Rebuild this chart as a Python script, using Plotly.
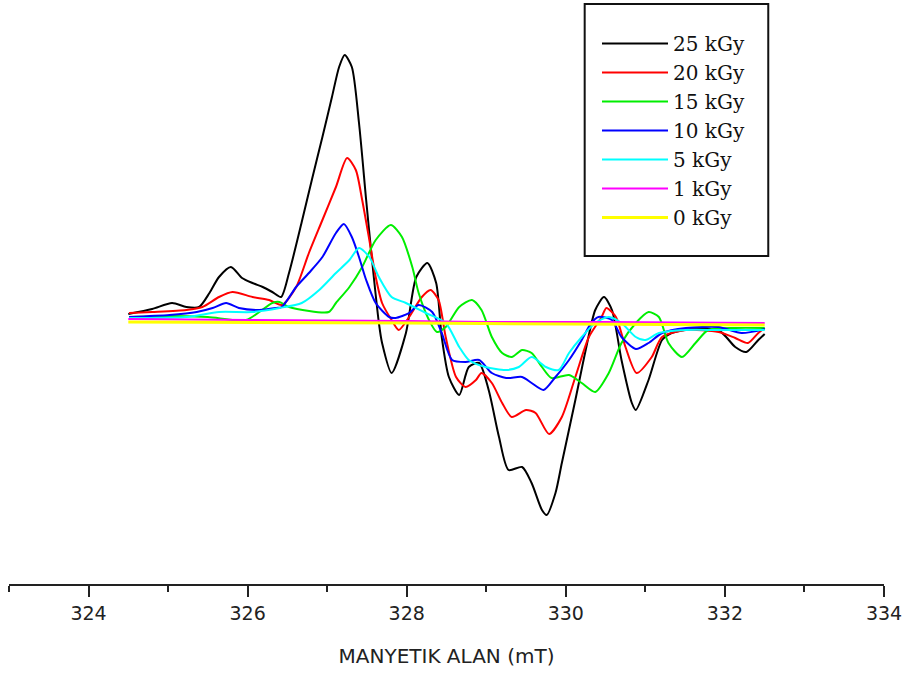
import plotly.graph_objects as go

# Field values (mT) and signal intensities (arb. units)
b25_x = [324.50, 324.80, 325.05, 325.23, 325.39, 325.52, 325.64, 325.79, 325.93, 326.06, 326.19, 326.31,
         326.42, 326.52, 326.68, 326.81, 326.94, 327.06, 327.15, 327.22, 327.31, 327.40, 327.49, 327.56,
         327.65, 327.69, 327.81, 327.99, 328.12, 328.26, 328.37, 328.44, 328.53, 328.66, 328.78, 328.91,
         329.03, 329.16, 329.28, 329.45, 329.57, 329.70, 329.76, 329.87, 329.95, 330.12, 330.25, 330.37,
         330.48, 330.58, 330.70, 330.83, 330.88, 331.04, 331.21, 331.33, 331.70, 331.95, 332.13, 332.27,
         332.42, 332.50]
b25_y = [8, 13, 19, 15, 15, 29, 45, 55, 44, 39, 35, 30,
         25, 49, 100, 143, 185, 225, 255, 267, 255, 199, 122, 65,
         -1, -21, -51, -11, 45, 59, 39, -15, -55, -73, -45, -41,
         -68, -115, -148, -145, -161, -188, -193, -171, -141, -78, -28, 12,
         25, 12, -38, -81, -88, -58, -18, -11, -6, -10, -25, -30,
         -18, -12]

b20_x = [324.51, 324.80, 325.23, 325.43, 325.64, 325.81, 326.06, 326.27, 326.43, 326.61, 326.77, 326.94,
         327.11, 327.25, 327.36, 327.44, 327.53, 327.61, 327.69, 327.81, 327.90, 328.03, 328.19, 328.30,
         328.40, 328.49, 328.62, 328.74, 328.87, 328.94, 329.07, 329.20, 329.32, 329.50, 329.62, 329.79,
         329.95, 330.12, 330.29, 330.45, 330.51, 330.63, 330.75, 330.89, 331.08, 331.21, 331.51, 331.92,
         332.13, 332.29, 332.42, 332.50]
b20_y = [9, 10, 12, 15, 25, 30, 25, 22, 17, 35, 69, 102,
         135, 164, 152, 122, 82, 45, 19, 2, -8, 5, 25, 32,
         22, -15, -55, -65, -58, -51, -61, -81, -95, -88, -91, -112,
         -95, -55, -15, 5, 14, 5, -25, -51, -35, -15, -8, -10,
         -16, -21, -11, -6]

b15_x = [324.51, 325.00, 325.50, 325.98, 326.31, 326.40, 326.52, 327.02, 327.11, 327.28, 327.44, 327.61,
         327.80, 327.94, 328.07, 328.15, 328.28, 328.38, 328.49, 328.66, 328.82, 328.94, 329.07, 329.20,
         329.32, 329.45, 329.57, 329.70, 329.82, 330.04, 330.20, 330.37, 330.54, 330.70, 330.88, 331.04,
         331.17, 331.29, 331.46, 331.63, 331.79, 332.13, 332.50]
b15_y = [5, 6, 5, 2, 19, 20, 15, 10, 19, 35, 55, 82,
         97, 85, 55, 29, 2, -10, -5, 15, 22, 12, -15, -31,
         -35, -28, -31, -45, -56, -53, -61, -70, -51, -21, -1, 10,
         5, -21, -35, -21, -8, -6, -6]

b10_x = [324.51, 325.02, 325.36, 325.56, 325.73, 325.89, 326.15, 326.36, 326.43, 326.61, 326.77, 326.94,
         327.11, 327.21, 327.31, 327.40, 327.49, 327.61, 327.78, 327.86, 328.03, 328.15, 328.32, 328.44,
         328.57, 328.74, 328.91, 329.07, 329.25, 329.45, 329.57, 329.72, 329.87, 330.04, 330.20, 330.32,
         330.41, 330.58, 330.70, 330.88, 331.04, 331.21, 331.51, 331.92, 332.21, 332.50]
b10_y = [5, 7, 10, 14, 19, 14, 12, 14, 15, 35, 49, 65,
         89, 98, 85, 65, 42, 19, 5, 4, 9, 17, 10, -11,
         -38, -40, -38, -51, -56, -55, -61, -68, -55, -38, -18, -1,
         5, 2, -15, -27, -21, -11, -6, -5, -11, -7]

b5_x = [324.51, 325.23, 325.64, 326.06, 326.40, 326.68, 326.90, 327.11, 327.28, 327.40, 327.53, 327.65,
        327.81, 327.99, 328.24, 328.49, 328.66, 328.78, 328.99, 329.25, 329.41, 329.57, 329.75, 329.91,
        330.04, 330.20, 330.37, 330.54, 330.70, 330.88, 331.00, 331.17, 331.51, 331.95, 332.50]
b5_y = [4, 5, 10, 10, 14, 19, 32, 49, 62, 74, 65, 45,
        25, 19, 9, -1, -25, -38, -45, -48, -45, -35, -45, -48,
        -31, -15, -1, 5, -1, -15, -18, -11, -8, -8, -8]

b1_x = [324.5, 326.0, 328.0, 329.0, 330.5, 332.5]
b1_y = [3, 2, 1, 0, 0, -1]

b0_x = [324.5, 328.0, 330.0, 332.5]
b0_y = [0, -1, -2, -3]

labels = ["25 kGy", "20 kGy", "15 kGy", "10 kGy", "5 kGy", "1 kGy", "0 kGy"]
colors = ["#000000", "#ff0000", "#00ee00", "#0000ff", "#00ffff", "#ff00ff", "#ffff00"]
series = [(b25_x, b25_y), (b20_x, b20_y), (b15_x, b15_y), (b10_x, b10_y),
          (b5_x, b5_y), (b1_x, b1_y), (b0_x, b0_y)]
widths = [2, 2, 2, 2, 2, 2, 3]

tick_vals = [324, 326, 328, 330, 332, 334]

fig = go.Figure()
for (xs, ys), name, c, w in zip(series, labels, colors, widths):
    fig.add_trace(go.Scatter(x=xs, y=ys, mode="lines", name=name,
                             line=dict(color=c, width=w, shape="spline", smoothing=0.7)))

fig.update_layout(
    width=902, height=673,
    margin=dict(l=9, r=16, t=0, b=89),
    paper_bgcolor="white", plot_bgcolor="white",
    showlegend=True,
    legend=dict(x=0.672, y=0.959, xanchor="left", yanchor="top",
                bgcolor="rgba(0,0,0,0)", borderwidth=0,
                font=dict(family="DejaVu Serif", size=20, color="#111"),
                itemwidth=66, tracegroupgap=0),
    xaxis=dict(range=[323, 334], tickmode="array", tickvals=tick_vals,
               ticktext=[str(v) for v in tick_vals], ticklabeloverflow="allow",
               showline=True, linecolor="#222", linewidth=2,
               ticks="outside", ticklen=11, tickwidth=2, tickcolor="#222",
               minor=dict(dtick=1, tick0=323, ticks="outside", ticklen=6, tickwidth=2, tickcolor="#222"),
               showgrid=False, zeroline=False,
               tickfont=dict(family="DejaVu Sans", size=19, color="#222"),
               title=dict(text="MANYETIK ALAN (mT)", font=dict(family="DejaVu Sans", size=20, color="#222"),
                          standoff=26)),
    yaxis=dict(range=[-262, 322], visible=False, showgrid=False, zeroline=False),
    shapes=[dict(type="rect", xref="paper", yref="paper",
                 x0=(586 - 9) / 877, x1=(770 - 9) / 877,
                 y0=1 - 256 / 584, y1=1 - 4 / 584,
                 line=dict(color="#111", width=2), fillcolor="rgba(0,0,0,0)")],
)

fig.write_html("out.html")
